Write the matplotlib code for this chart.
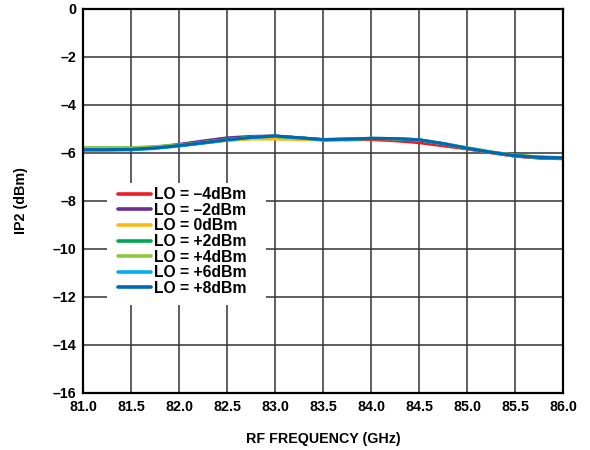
import numpy as np
import matplotlib
matplotlib.use("Agg")
import matplotlib.pyplot as plt
from matplotlib.patches import Rectangle

plt.rcParams['font.family'] = ['Liberation Sans', 'DejaVu Sans']

freq = [81.0, 81.25, 81.5, 81.75, 82.0, 82.25, 82.5, 82.75, 83.0, 83.25, 83.5,
        83.75, 84.0, 84.25, 84.5, 84.75, 85.0, 85.25, 85.5, 85.75, 86.0]

lo_m4 = [-5.86, -5.86, -5.85, -5.79, -5.70, -5.58, -5.46, -5.36, -5.31, -5.38, -5.45,
         -5.45, -5.44, -5.49, -5.57, -5.70, -5.83, -5.99, -6.13, -6.20, -6.23]
lo_m2 = [-5.86, -5.86, -5.84, -5.76, -5.64, -5.50, -5.37, -5.31, -5.29, -5.37, -5.45,
         -5.43, -5.40, -5.41, -5.47, -5.63, -5.81, -5.98, -6.13, -6.21, -6.24]
lo_0 = [-5.85, -5.85, -5.84, -5.78, -5.69, -5.58, -5.48, -5.42, -5.42, -5.44, -5.46,
        -5.43, -5.40, -5.41, -5.46, -5.62, -5.81, -5.98, -6.12, -6.19, -6.22]
lo_p2 = [-5.79, -5.79, -5.79, -5.75, -5.68, -5.56, -5.44, -5.34, -5.30, -5.37, -5.45,
         -5.43, -5.39, -5.40, -5.45, -5.60, -5.79, -5.96, -6.10, -6.17, -6.20]
lo_p4 = [-5.78, -5.78, -5.78, -5.73, -5.67, -5.56, -5.44, -5.35, -5.31, -5.37, -5.44,
         -5.42, -5.39, -5.40, -5.45, -5.61, -5.78, -5.95, -6.09, -6.16, -6.19]
lo_p6 = [-5.88, -5.88, -5.87, -5.81, -5.71, -5.59, -5.46, -5.35, -5.30, -5.37, -5.44,
         -5.42, -5.39, -5.40, -5.45, -5.61, -5.80, -5.97, -6.11, -6.18, -6.21]
lo_p8 = [-5.86, -5.86, -5.85, -5.79, -5.69, -5.57, -5.45, -5.35, -5.29, -5.36, -5.44,
         -5.42, -5.39, -5.40, -5.45, -5.61, -5.80, -5.97, -6.11, -6.18, -6.21]

series = [lo_m4, lo_m2, lo_0, lo_p2, lo_p4, lo_p6, lo_p8]
labels = ["LO = \u20134dBm", "LO = \u20132dBm", "LO = 0dBm", "LO = +2dBm",
          "LO = +4dBm", "LO = +6dBm", "LO = +8dBm"]
colors = ["#ed1c24", "#6a2d91", "#fdb913", "#00a651", "#8dc63f", "#00aeef", "#0067b1"]

xticks = [81.0, 81.5, 82.0, 82.5, 83.0, 83.5, 84.0, 84.5, 85.0, 85.5, 86.0]
yticks = [-16, -14, -12, -10, -8, -6, -4, -2, 0]

fig = plt.figure(figsize=(5.9, 4.5), dpi=100)
ax = fig.add_axes([83/590, 1 - 393/450, 480/590, 384/450])

for y, lab, c in zip(series, labels, colors):
    ax.plot(freq, y, color=c, lw=2.2, label=lab, solid_capstyle='round', zorder=3)

ax.set_xlim(81, 86)
ax.set_ylim(-16, 0)
ax.set_xticks(xticks)
ax.set_xticklabels([f"{t:.1f}" for t in xticks], fontsize=10.3, fontweight='bold')
ax.set_yticks(yticks)
ax.set_yticklabels([("\u2013" + str(abs(t))) if t < 0 else str(t) for t in yticks],
                   fontsize=10.3, fontweight='bold')
ax.tick_params(length=0, pad=5)
ax.grid(True, color='#333333', lw=1.1)
ax.set_axisbelow(True)
for s in ax.spines.values():
    s.set_linewidth(1.6)
    s.set_color('black')
    s.set_zorder(4)

ax.set_xlabel("RF FREQUENCY (GHz)", fontsize=10.3, fontweight='bold', labelpad=13)
ax.set_ylabel("IP2 (dBm)", fontsize=10.3, fontweight='bold')
ax.yaxis.set_label_coords(-0.115, 0.5)

# white background behind the legend (hides grid lines)
ax.add_patch(Rectangle((0.05, 0.229), 0.331, 0.318, transform=ax.transAxes,
                       facecolor='white', edgecolor='none', zorder=1))

leg = ax.legend(loc='upper left', bbox_to_anchor=(0.073, 0.536), frameon=False,
                prop={'size': 11.3, 'weight': 'bold'}, handlelength=2.1,
                handletextpad=0.2, labelspacing=0.04, borderpad=0,
                borderaxespad=0)
for h in leg.get_lines():
    h.set_linewidth(2.6)

fig.savefig("out.png", dpi=100)
